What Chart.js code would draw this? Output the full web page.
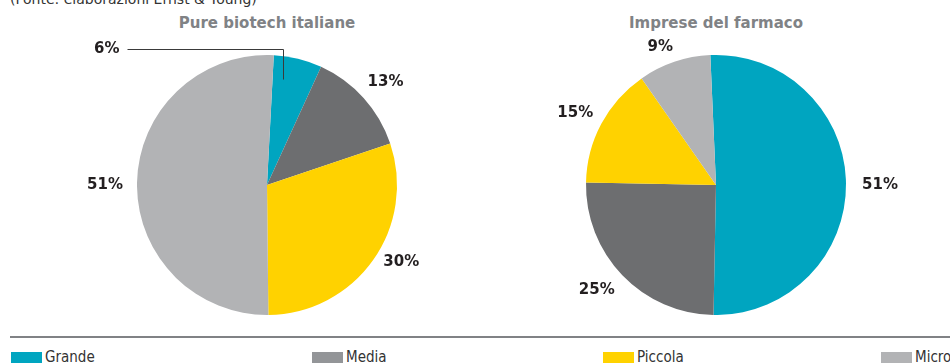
<!DOCTYPE html>
<html>
<head>
<meta charset="utf-8">
<script src="https://cdn.jsdelivr.net/npm/chart.js@4"></script>
<style>
  html, body { margin: 0; padding: 0; background: #ffffff; }
  body { width: 950px; height: 363px; position: relative; overflow: hidden; font-family: "DejaVu Sans", sans-serif; }
  .source { position: absolute; left: 10px; top: -9px; font: 14px "DejaVu Sans", sans-serif; color: #333; white-space: nowrap; }
  .ttl { position: absolute; top: 14px; width: 300px; text-align: center; font: bold 15px "DejaVu Sans", sans-serif; color: #808285; }
  .wrap { position: absolute; top: 0; height: 338px; }
  .rule { position: absolute; left: 10px; right: 0; top: 336px; height: 2px; background: #808285; }
  .leg { position: absolute; top: 350px; height: 16px; display: flex; align-items: flex-start; font: 15px "DejaVu Sans Condensed", "Liberation Sans Narrow", sans-serif; color: #333; line-height: 15px; }
  .leg span.sw { display: inline-block; width: 31px; height: 12px; margin-top: 2px; margin-right: 3px; }
</style>
</head>
<body>
<div class="source">(Fonte: elaborazioni Ernst &amp; Young)</div>
<div class="ttl" style="left:117px">Pure biotech italiane</div>
<div class="ttl" style="left:566px">Imprese del farmaco</div>
<div class="wrap" style="left:0;width:534px"><canvas id="c1"></canvas></div>
<div class="wrap" style="left:516px;width:400px"><canvas id="c2"></canvas></div>
<div class="rule"></div>
<div id="legend"></div>
<script>
// Size classes and the share of companies in each group
const categories = ['Grande', 'Media', 'Piccola', 'Micro'];
const biotechValues = [6, 13, 30, 51];
const farmacoValues = [51, 25, 15, 9];
const sliceColors = ['#00a5c0', '#6d6e70', '#ffd200', '#b2b3b5'];
const legendColors = ['#00a5c0', '#939598', '#ffd200', '#b2b3b5'];
const legendX = [11, 312, 603, 881];

// Legend row under the rule
const legend = document.getElementById('legend');
categories.forEach((name, i) => {
  const d = document.createElement('div');
  d.className = 'leg';
  d.style.left = legendX[i] + 'px';
  d.innerHTML = '<span class="sw" style="background:' + legendColors[i] + '"></span>' + name;
  legend.appendChild(d);
});

// Percent labels placed outside each slice, near the slice's middle angle
const outsideLabels = {
  id: 'outsideLabels',
  afterDatasetsDraw(chart, args, opts) {
    const ctx = chart.ctx;
    const meta = chart.getDatasetMeta(0);
    const values = chart.data.datasets[0].data;
    const deg = Math.PI / 180;
    ctx.save();
    ctx.font = 'bold 15px "DejaVu Sans", sans-serif';
    ctx.fillStyle = '#231f20';
    ctx.textBaseline = 'middle';
    meta.data.forEach((arc, i) => {
      const p = arc.getProps(['x', 'y', 'startAngle', 'endAngle', 'outerRadius'], true);
      const text = values[i] + '%';
      const lead = opts.leader && opts.leader[i];
      if (lead) {
        // elbow leader: from inside the slice straight up, then across to the label
        const a = p.startAngle + (p.endAngle - p.startAngle) * lead.frac;
        const ix = Math.round(p.x + p.outerRadius * 0.82 * Math.cos(a)) + 0.5;
        const iy = p.y + p.outerRadius * 0.82 * Math.sin(a);
        const topY = Math.round(p.y - p.outerRadius - lead.above) + 0.5;
        ctx.strokeStyle = '#3a3a3a';
        ctx.lineWidth = 1;
        ctx.beginPath();
        ctx.moveTo(ix, iy);
        ctx.lineTo(ix, topY);
        ctx.lineTo(ix - lead.run, topY);
        ctx.stroke();
        ctx.textAlign = 'right';
        ctx.fillText(text, ix - lead.run - 8, topY);
        return;
      }
      const mid = (p.startAngle + p.endAngle) / 2 + (opts.shift ? opts.shift[i] : 0) * deg;
      const r = p.outerRadius + (opts.offset ? opts.offset[i] : 28);
      const x = p.x + r * Math.cos(mid);
      const y = p.y + r * Math.sin(mid);
      ctx.textAlign = 'center';
      ctx.fillText(text, x, y);
    });
    ctx.restore();
  }
};

function makePie(id, values, rotation, labelOpts) {
  return new Chart(document.getElementById(id), {
    type: 'pie',
    data: {
      labels: categories,
      datasets: [{ data: values, backgroundColor: sliceColors, borderWidth: 0 }]
    },
    options: {
      responsive: true,
      maintainAspectRatio: false,
      animation: false,
      rotation: rotation,
      layout: { padding: { top: 55, bottom: 23, left: 0, right: 0 } },
      plugins: {
        legend: { display: false },
        tooltip: { enabled: false },
        title: { display: false },
        outsideLabels: labelOpts
      }
    },
    plugins: [outsideLabels]
  });
}

makePie('c1', biotechValues, 3, {
  offset: [0, 27, 25, 32],
  shift: [0, 1, -5.4, -1.2],
  leader: { 0: { frac: 0.25, above: 6, run: 156 } }
});
makePie('c2', farmacoValues, -2.5, {
  offset: [34, 29, 28, 19],
  shift: [0.7, 2.5, -1.1, -3.3]
});
</script>
</body>
</html>
